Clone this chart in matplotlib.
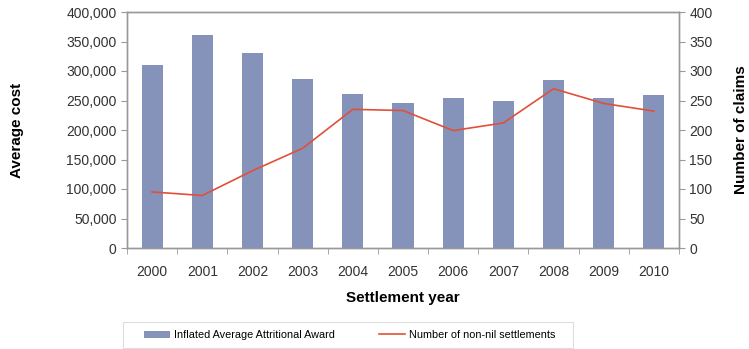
import matplotlib
matplotlib.use("Agg")
import matplotlib.pyplot as plt
from matplotlib.ticker import FuncFormatter, MultipleLocator
from matplotlib.patches import Rectangle

years = ["2000", "2001", "2002", "2003", "2004", "2005", "2006", "2007", "2008", "2009", "2010"]
avg_award = [310000, 361000, 330000, 287000, 261000, 246000, 254000, 250000, 285000, 254000, 260000]
num_settlements = [95, 89, 131, 169, 235, 233, 199, 212, 270, 245, 232]

plt.rcParams['font.family'] = ['Liberation Sans', 'DejaVu Sans']

W, H = 749, 349
L, R, T, B = 127, 679, 12, 248
fig = plt.figure(figsize=(W/100, H/100), dpi=100)
ax = fig.add_axes([L/W, 1 - B/H, (R-L)/W, (B-T)/H])
ax2 = ax.twinx()

x = list(range(len(years)))
bar_color = '#8593BB'
line_color = '#E0503A'
b = ax.bar(x, avg_award, width=0.42, color=bar_color, zorder=2)
l, = ax2.plot(x, num_settlements, color=line_color, lw=1.2, zorder=3)

ax.set_xlim(-0.5, len(years) - 0.5)
ax.set_ylim(0, 400000)
ax2.set_ylim(0, 400)
ax.yaxis.set_major_locator(MultipleLocator(50000))
ax2.yaxis.set_major_locator(MultipleLocator(50))
ax.yaxis.set_major_formatter(FuncFormatter(lambda v, p: f"{int(v):,}"))

ax.set_xticks(x)
ax.set_xticklabels(years)
ax.set_xticks([i + 0.5 for i in range(-1, len(years))], minor=True)
ax.tick_params(axis='x', which='major', length=0, pad=12, labelsize=10, colors='#333333')
ax.tick_params(axis='x', which='minor', length=4, color='#999999')
ax.tick_params(axis='y', length=4, color='#999999', labelsize=10, labelcolor='#333333')
ax2.tick_params(axis='y', length=4, color='#999999', labelsize=10, labelcolor='#333333')

for a in (ax, ax2):
    for s in a.spines.values():
        s.set_color('#999999')
        s.set_linewidth(1.0)

ax.set_ylabel("Average cost", fontsize=11, fontweight='bold')
ax.yaxis.set_label_coords((17 - L)/(R - L), 0.5)
ax2.set_ylabel("Number of claims", fontsize=11, fontweight='bold')
ax2.yaxis.set_label_coords((741 - L)/(R - L), 0.5)
ax.set_xlabel("Settlement year", fontsize=11, fontweight='bold')
ax.xaxis.set_label_coords(0.5, (B - 298)/(B - T))
ax.xaxis.label.set_va('center')
ax.yaxis.label.set_va('center')
ax2.yaxis.label.set_va('center')

# legend box
fig.patches.append(Rectangle((123/W, 1 - 348/H), (573-123)/W, 26/H, transform=fig.transFigure,
                             facecolor='white', edgecolor='#DDDDDD', linewidth=0.8))
leg = fig.legend([b, l], ["Inflated Average Attritional Award", "Number of non-nil settlements"],
                 loc='center', bbox_to_anchor=(350/W, 1 - 335/H), ncol=2,
                 fontsize=7.8, frameon=False,
                 handlelength=2.4, handleheight=0.6, handletextpad=0.35, columnspacing=4.1)

fig.savefig("out.png", dpi=100)
